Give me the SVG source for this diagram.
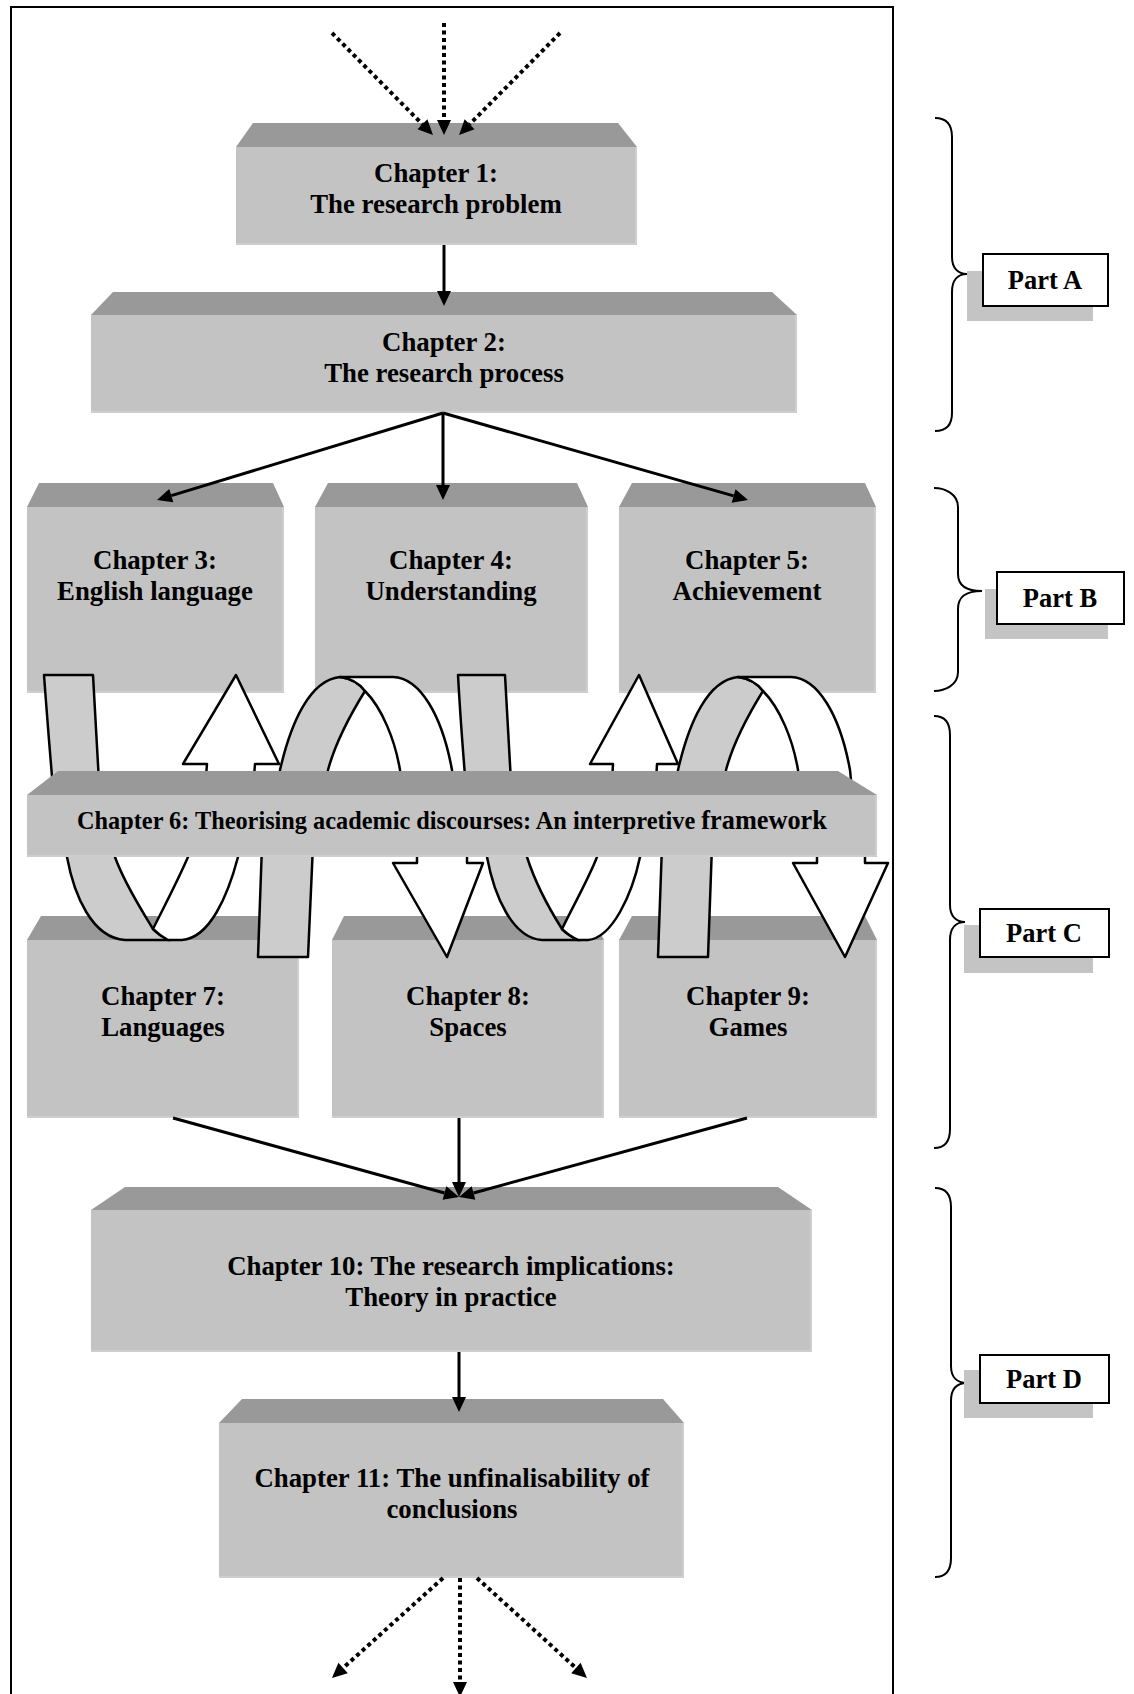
<svg xmlns="http://www.w3.org/2000/svg" width="1134" height="1694" viewBox="0 0 1134 1694">
<defs>
<style>
.top{fill:#999999}
.front{fill:#c3c3c3}
.edge{fill:none;stroke:#d2d2d2;stroke-width:1.5}
.t{font-family:"Liberation Serif","Times New Roman",serif;font-weight:bold;font-size:26.8px;text-anchor:middle;fill:#000}
.pt{font-family:"Liberation Serif","Times New Roman",serif;font-weight:bold;font-size:26.5px;text-anchor:middle;fill:#000}
.conn{stroke:#000;stroke-width:3;fill:none}
.dot{stroke:#000;stroke-width:4;stroke-dasharray:4 3.5;fill:none}
.band{fill:#cccccc;stroke:#000;stroke-width:2.5;stroke-linejoin:round}
.wht{fill:#ffffff;stroke:#000;stroke-width:2.5;stroke-linejoin:round}
.brace{fill:none;stroke:#000;stroke-width:2}
.pbox{fill:#fff;stroke:#000;stroke-width:2}
.shadow{fill:#c4c4c4}
.frame{fill:none;stroke:#000;stroke-width:2}
</style>
<marker id="ah" markerUnits="userSpaceOnUse" markerWidth="16" markerHeight="14" viewBox="0 0 16 14" refX="0" refY="7" orient="auto" overflow="visible">
<path d="M0,0 L15,7 L0,14 Z" fill="#000"/>
</marker>
</defs>

<rect class="frame" x="11" y="7" width="882" height="1710"/>

<g id="ch1">
<polygon class="top" points="253,123 618,123 637,147 236,147"/>
<rect class="front" x="236" y="147" width="401" height="98"/>
<polyline class="edge" points="636,147 636,244 236,244"/>
<text class="t" x="436" y="182">Chapter 1:</text>
<text class="t" x="436" y="213">The research problem</text>
</g>

<g id="ch2">
<polygon class="top" points="113,292 772,292 797,315 91,315"/>
<rect class="front" x="91" y="315" width="706" height="98"/>
<polyline class="edge" points="796,315 796,412 91,412"/>
<text class="t" x="444" y="351">Chapter 2:</text>
<text class="t" x="444" y="382">The research process</text>
</g>

<g id="ch3">
<polygon class="top" points="39,483 273,483 284,507 27,507"/>
<rect class="front" x="27" y="507" width="257" height="186"/>
<polyline class="edge" points="283,507 283,692 27,692"/>
<text class="t" x="155" y="569">Chapter 3:</text>
<text class="t" x="155" y="600">English language</text>
</g>

<g id="ch4">
<polygon class="top" points="328,483 577,483 588,507 315,507"/>
<rect class="front" x="315" y="507" width="273" height="186"/>
<polyline class="edge" points="587,507 587,692 315,692"/>
<text class="t" x="451" y="569">Chapter 4:</text>
<text class="t" x="451" y="600">Understanding</text>
</g>

<g id="ch5">
<polygon class="top" points="632,483 865,483 876,507 619,507"/>
<rect class="front" x="619" y="507" width="257" height="186"/>
<polyline class="edge" points="875,507 875,692 619,692"/>
<text class="t" x="747" y="569">Chapter 5:</text>
<text class="t" x="747" y="600">Achievement</text>
</g>

<g id="ch7">
<polygon class="top" points="41,916 287,916 299,940 27,940"/>
<rect class="front" x="27" y="940" width="272" height="178"/>
<polyline class="edge" points="298,940 298,1117 27,1117"/>
<text class="t" x="163" y="1005">Chapter 7:</text>
<text class="t" x="163" y="1036">Languages</text>
</g>

<g id="ch8">
<polygon class="top" points="344,916 592,916 604,940 332,940"/>
<rect class="front" x="332" y="940" width="272" height="178"/>
<polyline class="edge" points="603,940 603,1117 332,1117"/>
<text class="t" x="468" y="1005">Chapter 8:</text>
<text class="t" x="468" y="1036">Spaces</text>
</g>

<g id="ch9">
<polygon class="top" points="632,916 865,916 877,940 619,940"/>
<rect class="front" x="619" y="940" width="258" height="178"/>
<polyline class="edge" points="876,940 876,1117 619,1117"/>
<text class="t" x="748" y="1005">Chapter 9:</text>
<text class="t" x="748" y="1036">Games</text>
</g>

<g id="ch10">
<polygon class="top" points="125,1187 778,1187 812,1210 91,1210"/>
<rect class="front" x="91" y="1210" width="721" height="142"/>
<polyline class="edge" points="811,1210 811,1351 91,1351"/>
<text class="t" x="451" y="1275">Chapter 10: The research implications:</text>
<text class="t" x="451" y="1306">Theory in practice</text>
</g>

<g id="ch11">
<polygon class="top" points="242,1399 663,1399 684,1423 219,1423"/>
<rect class="front" x="219" y="1423" width="465" height="155"/>
<polyline class="edge" points="683,1423 683,1577 219,1577"/>
<text class="t" x="452" y="1487">Chapter 11: The unfinalisability of</text>
<text class="t" x="452" y="1518">conclusions</text>
</g>

<g id="connectors">
<line class="dot" x1="444" y1="23" x2="444" y2="120" marker-end="url(#ah)"/>
<line class="dot" x1="332" y1="33" x2="422.4" y2="124.3" marker-end="url(#ah)"/>
<line class="dot" x1="560" y1="33" x2="469.6" y2="124.3" marker-end="url(#ah)"/>
<line class="conn" x1="444" y1="245" x2="444" y2="291" marker-end="url(#ah)"/>
<line class="conn" x1="443" y1="413" x2="171.3" y2="495.6" marker-end="url(#ah)"/>
<line class="conn" x1="443" y1="413" x2="443" y2="485" marker-end="url(#ah)"/>
<line class="conn" x1="443" y1="413" x2="733.6" y2="495.9" marker-end="url(#ah)"/>
<line class="conn" x1="173" y1="1118" x2="444.5" y2="1193" marker-end="url(#ah)"/>
<line class="conn" x1="459" y1="1118" x2="459" y2="1182" marker-end="url(#ah)"/>
<line class="conn" x1="747" y1="1118" x2="473.5" y2="1193" marker-end="url(#ah)"/>
<line class="conn" x1="459" y1="1352" x2="459" y2="1397" marker-end="url(#ah)"/>
<line class="dot" x1="443" y1="1578" x2="343.1" y2="1668" marker-end="url(#ah)"/>
<line class="dot" x1="460" y1="1578" x2="460" y2="1682" marker-end="url(#ah)"/>
<line class="dot" x1="477" y1="1578" x2="575.9" y2="1668" marker-end="url(#ah)"/>
</g>

<g id="cycles">
<path class="band" d="M44,675 L93,675 Q96,730 100,800 L54,800 Q48,730 44,675 Z"/>
<path class="wht" d="M236,675 L279,764 L255,764 L252,800 L204,800 L207,764 L183,764 Z"/>
<g id="loopB">
<path class="band" d="M278,790 L280,770 C291,722 310,680 340,677 Q356,679 365,691 C352,712 336,740 328,770 L326,790 Z"/>
<path class="wht" d="M340,677 L393,677 C420,678 442,715 452,770 L454,790 L402,790 L400,770 C395,740 382,708 365,691 Q356,679 340,677 Z"/>
</g>
<path class="band" d="M458,675 L505,675 Q508,730 512,800 L467,800 Q461,730 458,675 Z"/>
<path class="wht" d="M639,675 L678,764 L657,764 L655,800 L611,800 L613,764 L590,764 Z"/>
<g id="loopD" transform="translate(398,0)">
<path class="band" d="M278,790 L280,770 C291,722 310,680 340,677 Q356,679 365,691 C352,712 336,740 328,770 L326,790 Z"/>
<path class="wht" d="M340,677 L393,677 C420,678 442,715 452,770 L454,790 L402,790 L400,770 C395,740 382,708 365,691 Q356,679 340,677 Z"/>
</g>
<path class="band" d="M64,845 L67,857 C74,895 92,938 125,940 L170,940 Q160,936 153,929 C143,912 125,885 115,857 L112,845 Z"/>
<path class="wht" d="M153,929 C165,905 178,880 188,857 L191,845 L241,845 L238,857 C228,895 210,938 182,940 L168,940 Q160,936 153,929 Z"/>
<path class="band" d="M262,845 L313,845 L308,957 L258,957 Z"/>
<path class="wht" d="M417,845 L467,845 L467,863 L483,863 L447,957 L393,863 L417,863 Z"/>
<path class="band" d="M484,845 L487,857 C494,895 512,938 542,940 L580,940 Q569,936 562,929 C550,910 535,882 527,857 L524,845 Z"/>
<path class="wht" d="M562,929 C572,908 588,880 597,857 L600,845 L643,845 L640,857 C632,895 612,938 588,940 L578,940 Q569,936 562,929 Z"/>
<path class="band" d="M662,845 L712,845 L708,957 L658,957 Z"/>
<path class="wht" d="M817,845 L865,845 L865,863 L888,863 L845,957 L793,863 L817,863 Z"/>
</g>

<g id="ch6">
<polygon class="top" points="58,771 838,771 877,795 27,795"/>
<rect class="front" x="27" y="795" width="850" height="62"/>
<polyline class="edge" points="876,795 876,856 27,856"/>
<text class="t" x="452" y="829" style="font-size:24.3px">Chapter 6: Theorising academic discourses: An interpretive <tspan style="font-size:26.3px">framework</tspan></text>
</g>

<g id="partA">
<path class="brace" d="M935,118 C946,118 952,124 952,137 L952,257 C952,268 958,274 967,274 C958,274 952,280 952,292 L952,413 C952,425 946,431 935,431"/>
<rect class="shadow" x="967" y="271" width="126" height="50"/>
<rect class="pbox" x="983" y="254" width="125" height="52"/>
<text class="pt" x="1045" y="289">Part A</text>
</g>

<g id="partB">
<path class="brace" d="M934,488 C945,488 958,494 958,507 L958,574 C958,585 965,591 982,591 C965,591 958,597 958,609 L958,672 C958,685 945,691 934,691"/>
<rect class="shadow" x="985" y="589" width="123" height="50"/>
<rect class="pbox" x="997" y="572" width="127" height="52"/>
<text class="pt" x="1060" y="607">Part B</text>
</g>

<g id="partC">
<path class="brace" d="M934,716 C945,716 950,722 950,735 L950,905 C950,916 956,922 965,922 C956,922 950,928 950,940 L950,1129 C950,1142 945,1148 934,1148"/>
<rect class="shadow" x="964" y="925" width="129" height="48"/>
<rect class="pbox" x="980" y="909" width="129" height="48"/>
<text class="pt" x="1044" y="942">Part C</text>
</g>

<g id="partD">
<path class="brace" d="M935,1188 C946,1188 951,1194 951,1207 L951,1366 C951,1377 957,1383 967,1383 C957,1383 951,1389 951,1401 L951,1558 C951,1571 946,1577 935,1577"/>
<rect class="shadow" x="964" y="1370" width="129" height="48"/>
<rect class="pbox" x="980" y="1355" width="129" height="48"/>
<text class="pt" x="1044" y="1388">Part D</text>
</g>
</svg>
